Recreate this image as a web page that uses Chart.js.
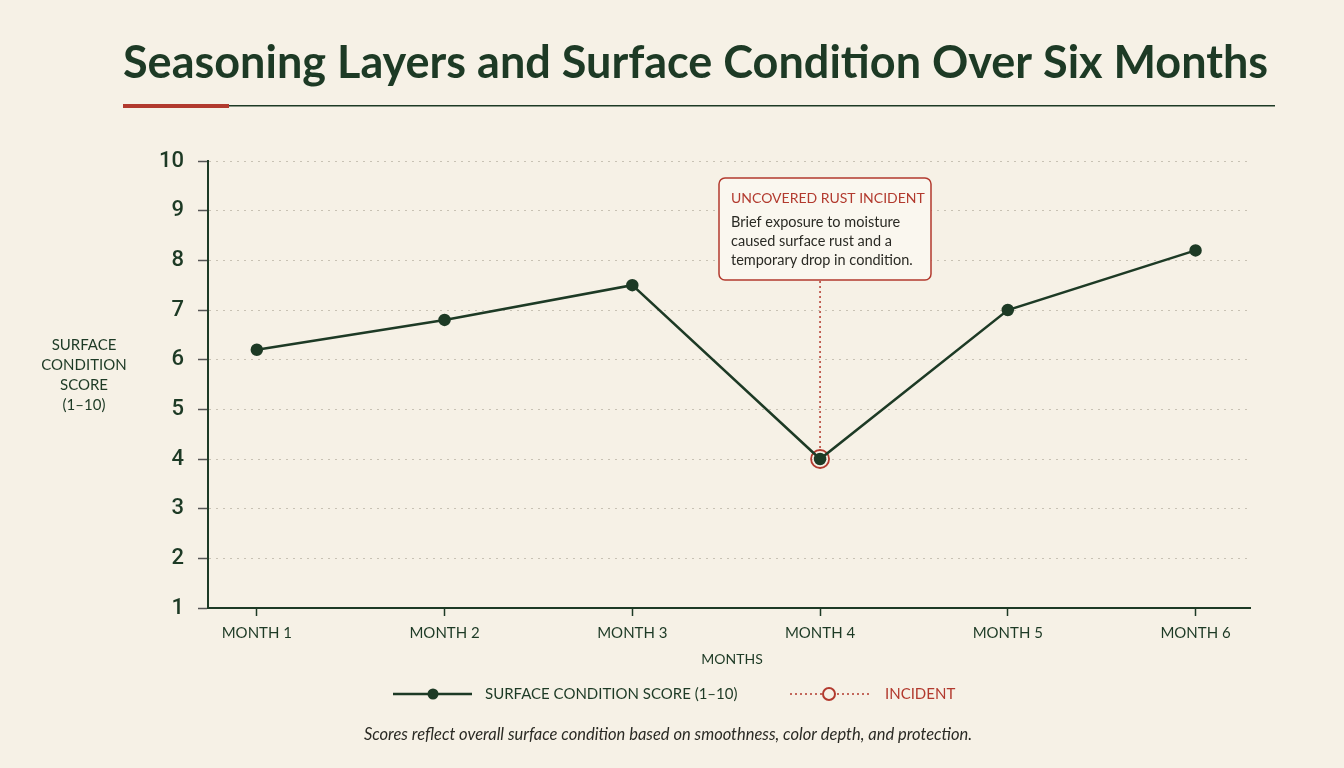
<!DOCTYPE html>
<html>
<head>
<meta charset="utf-8">
<script src="https://cdn.jsdelivr.net/npm/chart.js@4.4.0/dist/chart.umd.min.js"></script>
<style>
  html, body { margin: 0; padding: 0; background: #f6f1e6; }
  #wrap { width: 1344px; height: 768px; position: relative; }
</style>
</head>
<body>
<div id="wrap"><canvas id="chart"></canvas></div>
<script>
// Surface condition over six months

const months = ['MONTH 1', 'MONTH 2', 'MONTH 3', 'MONTH 4', 'MONTH 5', 'MONTH 6'];
const scores = [6.2, 6.8, 7.5, 4.0, 7.0, 8.2];
const incident = [null, null, null, 4.0, null, null];
const yTicks = [1, 2, 3, 4, 5, 6, 7, 8, 9, 10];

const green = '#1d3a25';
const red = '#b23a2e';
const bg = '#f6f1e6';

const points = (arr) => arr.map((v, i) => ({ x: i + 1, y: v }));

const extras = {
    id: 'extras',
    afterDraw(chart) {
        const ctx = chart.ctx;
        const xs = chart.scales.x;
        const ys = chart.scales.y;
        ctx.save();

        // title + rule
        ctx.fillStyle = green;
        ctx.font = 'bold 45px Lato';
        ctx.textBaseline = 'alphabetic';
        ctx.textAlign = 'left';
        ctx.fillText('Seasoning Layers and Surface Condition Over Six Months', 123, 78);
        ctx.fillStyle = red;
        ctx.fillRect(123, 104, 106, 4);
        ctx.fillStyle = green;
        ctx.fillRect(229, 105, 1046, 1.5);

        // y axis title
        ctx.font = '15px Lato';
        ctx.textAlign = 'center';
        ctx.textBaseline = 'middle';
        ['SURFACE', 'CONDITION', 'SCORE', '(1–10)'].forEach((t, i) => {
            ctx.fillText(t, 84, 345 + i * 20);
        });

        // x axis title
        ctx.font = '14px Lato';
        ctx.fillText('MONTHS', 732, 659);

        // annotation
        const px = xs.getPixelForValue(4);
        const py = ys.getPixelForValue(incident[3]);
        ctx.strokeStyle = red;
        ctx.lineWidth = 1.5;
        ctx.setLineDash([2, 3]);
        ctx.beginPath();
        ctx.moveTo(px, 281);
        ctx.lineTo(px, py - 10);
        ctx.stroke();
        ctx.setLineDash([]);

        const bx = 719, by = 178, bw = 212, bh = 102;
        ctx.fillStyle = '#faf7ef';
        ctx.beginPath();
        ctx.roundRect(bx, by, bw, bh, 6);
        ctx.fill();
        ctx.stroke();
        ctx.fillStyle = red;
        ctx.font = '14px Lato';
        ctx.textAlign = 'left';
        ctx.fillText('UNCOVERED RUST INCIDENT', bx + 12, 198);
        ctx.fillStyle = '#2a2a24';
        ctx.font = '14.5px Lato';
        ctx.fillText('Brief exposure to moisture', bx + 12, 222);
        ctx.fillText('caused surface rust and a', bx + 12, 241);
        ctx.fillText('temporary drop in condition.', bx + 12, 260);

        // legend
        const ly = 694;
        ctx.strokeStyle = green;
        ctx.lineWidth = 2.5;
        ctx.beginPath();
        ctx.moveTo(393, ly);
        ctx.lineTo(472, ly);
        ctx.stroke();
        ctx.fillStyle = green;
        ctx.beginPath();
        ctx.arc(433, ly, 5.5, 0, Math.PI * 2);
        ctx.fill();
        ctx.font = '15px Lato';
        ctx.fillText('SURFACE CONDITION SCORE (1–10)', 485, ly);

        ctx.strokeStyle = red;
        ctx.lineWidth = 1.5;
        ctx.setLineDash([2, 3]);
        ctx.beginPath();
        ctx.moveTo(790, ly);
        ctx.lineTo(822, ly);
        ctx.moveTo(837, ly);
        ctx.lineTo(870, ly);
        ctx.stroke();
        ctx.setLineDash([]);
        ctx.lineWidth = 2;
        ctx.beginPath();
        ctx.arc(829, ly, 6, 0, Math.PI * 2);
        ctx.stroke();
        ctx.fillStyle = red;
        ctx.fillText('INCIDENT', 885, ly);

        // footnote
        ctx.fillStyle = '#2a2a24';
        ctx.font = 'italic 16.5px Lato';
        ctx.textAlign = 'center';
        ctx.fillText('Scores reflect overall surface condition based on smoothness, color depth, and protection.', 668, 735);

        ctx.restore();
    }
};

const bgPlugin = {
    id: 'bg',
    beforeDraw(chart) {
        const ctx = chart.ctx;
        ctx.save();
        ctx.fillStyle = bg;
        ctx.fillRect(0, 0, chart.width, chart.height);
        ctx.restore();
    }
};

const config = {
    type: 'line',
    data: {
        datasets: [
            {
                label: 'Surface condition score (1–10)',
                data: points(scores),
                borderColor: green,
                backgroundColor: green,
                borderWidth: 2.5,
                pointRadius: 5,
                pointHoverRadius: 5,
                tension: 0,
                order: 1
            },
            {
                label: 'Incident',
                data: points(incident),
                showLine: false,
                borderColor: red,
                backgroundColor: 'rgba(0,0,0,0)',
                borderWidth: 1.8,
                pointRadius: 9,
                pointHoverRadius: 9,
                order: 2
            }
        ]
    },
    options: {
        responsive: true,
        maintainAspectRatio: false,
        animation: false,
        layout: { padding: { left: 0, right: 94, top: 161, bottom: 0 } },
        plugins: {
            legend: { display: false },
            tooltip: { enabled: false }
        },
        scales: {
            x: {
                type: 'linear',
                min: 0.74,
                max: 6.29,
                afterBuildTicks: (s) => { s.ticks = months.map((m, i) => ({ value: i + 1 })); },
                afterFit: (s) => { s.height = 160; },
                ticks: {
                    callback: (v) => months[v - 1],
                    color: green,
                    font: { family: 'Lato', size: 15 },
                    padding: 8,
                    maxRotation: 0
                },
                grid: {
                    drawOnChartArea: false,
                    drawTicks: true,
                    tickLength: 8,
                    tickColor: green,
                    tickWidth: 1.5
                },
                border: { color: green, width: 2 }
            },
            y: {
                min: 1,
                max: 10,
                afterBuildTicks: (s) => { s.ticks = yTicks.map((v) => ({ value: v })); },
                afterFit: (s) => { s.width = 208; },
                ticks: {
                    color: green,
                    font: { family: 'Roboto', size: 22, weight: '500' },
                    padding: 14
                },
                grid: {
                    color: (c) => c.tick && c.tick.value === 1 ? 'rgba(0,0,0,0)' : '#c8c2b4',
                    lineWidth: 1,
                    tickLength: 10,
                    tickColor: '#555',
                    tickWidth: 1.5
                },
                border: { color: green, width: 2, dash: [2, 5] }
            }
        }
    },
    plugins: [bgPlugin, extras]
};

const surfaceChart = new Chart(document.getElementById('chart'), config);
</script>
</body>
</html>
